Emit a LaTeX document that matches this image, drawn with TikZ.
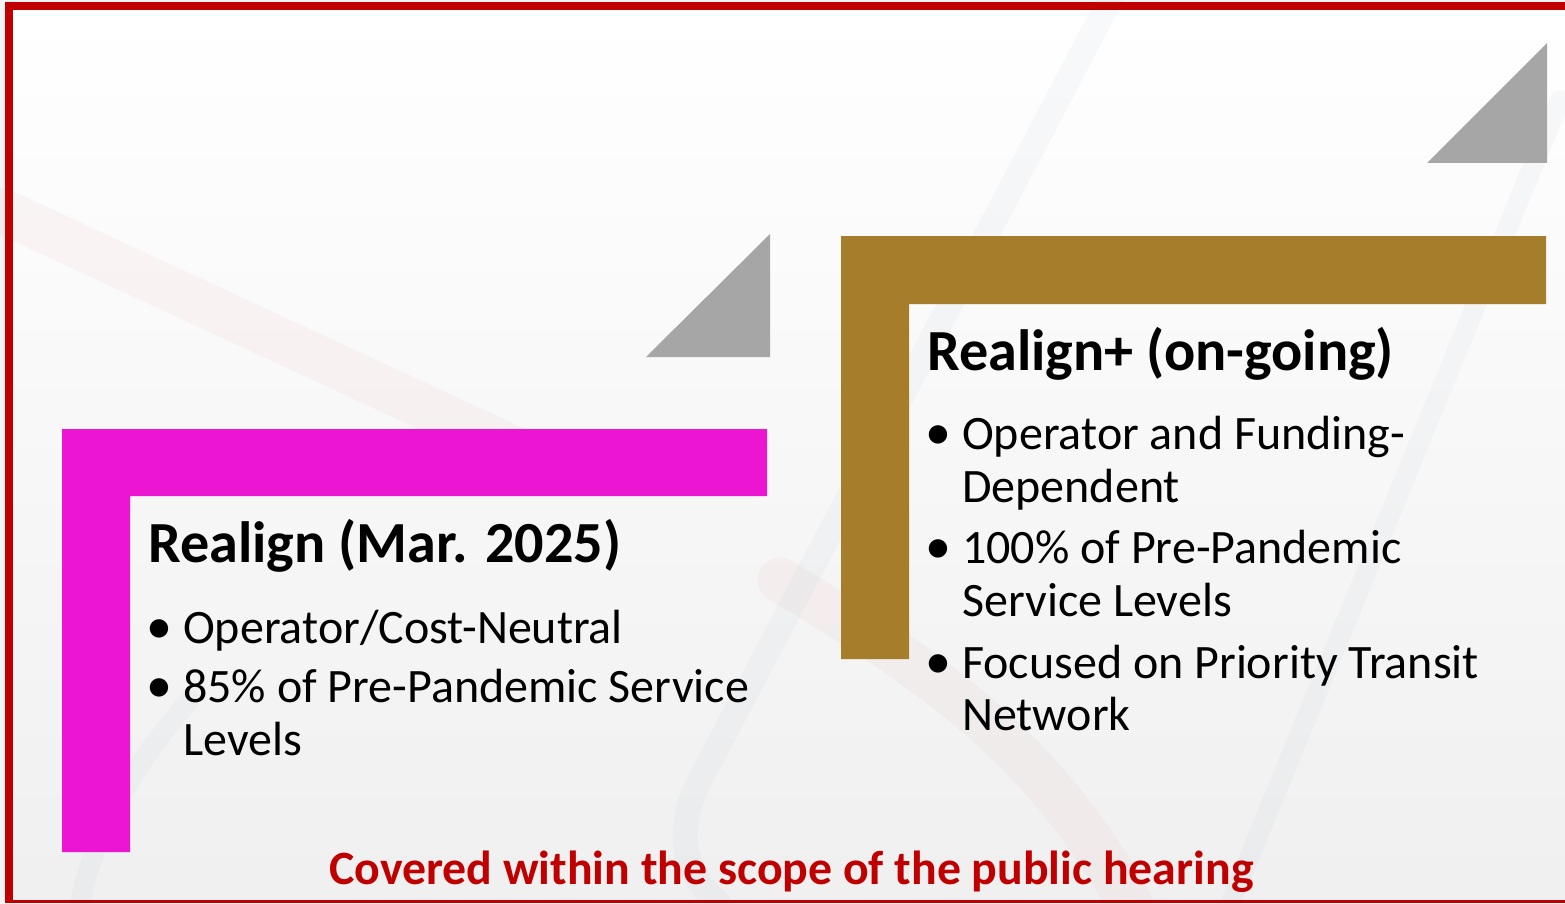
\documentclass[tikz,border=0pt]{standalone}
\usepackage{fontspec}
\setmainfont{Carlito}
\definecolor{bordred}{HTML}{C00000}
\definecolor{magL}{HTML}{EC16D2}
\definecolor{goldL}{HTML}{A67D2B}
\definecolor{triG}{HTML}{A6A6A6}
\definecolor{pagebg}{HTML}{F4F4F4}
\definecolor{faintred}{HTML}{E8B0B0}
\definecolor{faintblue}{HTML}{B8C8DC}
\tikzset{
  title/.style={anchor=base west, inner sep=0pt, font=\fontsize{58.2}{58.2}\selectfont\bfseries},
  item/.style={anchor=base west, inner sep=0pt, font=\fontsize{48}{48}\selectfont},
  dot/.style={anchor=base west, inner sep=0pt, font=\fontsize{52}{52}\selectfont},
  note/.style={anchor=base west, inner sep=0pt, text=bordred, font=\fontsize{47.8}{47.8}\selectfont\bfseries},
  tri/.style={fill=triG, draw=none},
  band/.style={line cap=round, opacity=0.1}
}
\begin{document}
\begin{tikzpicture}[x=1pt,y=-1pt]
\useasboundingbox (0,0) rectangle (1565,904);
% page background
\fill[pagebg] (0,0) rectangle (1565,904);
\shade[top color=white, bottom color=white!94!black] (13,10) rectangle (1565,901);
% faint background bands
\draw[band, faintred, line width=45] (0,210) -- (560,470);
\draw[band, faintred, line width=45] (780,580) .. controls (950,680) and (1050,760) .. (1130,904);
\draw[band, faintblue, line width=25] (1110,0) -- (700,780) .. controls (670,840) and (690,880) .. (720,904);
\draw[band, faintblue, line width=20] (1560,100) -- (1230,904);
\draw[band, faintblue, line width=20] (190,700) .. controls (120,780) and (90,850) .. (80,904);
% red border
\fill[bordred] (5,2) rectangle (1565,10);
\fill[bordred] (5,2) rectangle (13,903);
\fill[bordred] (5,900) rectangle (1565,903);
% triangles
\fill[tri] (646,357) -- (770,357) -- (770,234) -- cycle;
\fill[tri] (1427,163) -- (1547,163) -- (1547,43) -- cycle;
% magenta L
\fill[magL] (62,429) -- (767,429) -- (767,496) -- (130,496) -- (130,852) -- (62,852) -- cycle;
% gold L
\fill[goldL] (841,236) -- (1546,236) -- (1546,304) -- (909,304) -- (909,659) -- (841,659) -- cycle;
% left texts
\node[title] (t1) at (148,562) {Realign (Mar. 2025)};
\node[dot] (d1a) at (146,643) {•};
\node[item] (l1a) at (183,643) {Operator/Cost-Neutral};
\node[dot] (d1b) at (146,702) {•};
\node[item] (l1b) at (183,702) {85\% of Pre-Pandemic Service};
\node[item] (l1c) at (183,755) {Levels};
% right texts
\node[title] (t2) at (927,370) {Realign+ (on-going)};
\node[dot] (d2a) at (925,449) {•};
\node[item] (r2a) at (962,449) {Operator and Funding-};
\node[item] (r2b) at (962,502) {Dependent};
\node[dot] (d2b) at (925,563) {•};
\node[item] (r2c) at (962,563) {100\% of Pre-Pandemic};
\node[item] (r2d) at (962,616) {Service Levels};
\node[dot] (d2c) at (925,678) {•};
\node[item] (r2e) at (962,678) {Focused on Priority Transit};
\node[item] (r2f) at (962,730) {Network};
% bottom note
\node[note] (n) at (329,884) {Covered within the scope of the public hearing};
\end{tikzpicture}
\end{document}
